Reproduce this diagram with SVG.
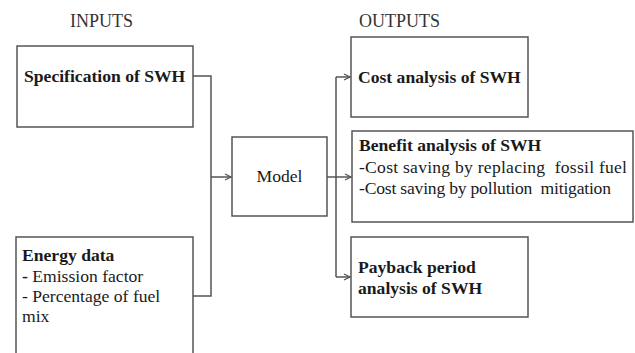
<svg xmlns="http://www.w3.org/2000/svg" width="635" height="353" viewBox="0 0 635 353">
<defs>
<style>
.box{fill:#fff;stroke:#555;stroke-width:1.5}
.t{font-family:"Liberation Serif","Times New Roman",serif;font-size:17.6px;fill:#1a1a1a}
.b{font-weight:bold}
.lbl{font-family:"Liberation Serif","Times New Roman",serif;font-size:18px;fill:#333}
.c{fill:none;stroke:#555;stroke-width:1.5}
</style>
<marker id="ar" markerWidth="8" markerHeight="8" refX="7" refY="4" orient="auto" markerUnits="userSpaceOnUse">
<path d="M1,1 L7,4 L1,7" fill="none" stroke="#555" stroke-width="1.2"/>
</marker>
</defs>
<rect width="635" height="353" fill="#fff"/>
<text class="lbl" x="70" y="27">INPUTS</text>
<text class="lbl" x="359" y="27">OUTPUTS</text>
<g id="spec">
<rect class="box" x="17" y="46" width="176" height="81"/>
<text class="t b" x="24" y="82">Specification of SWH</text>
</g>
<g id="energy">
<rect class="box" x="16" y="237" width="177" height="130"/>
<text class="t b" x="22" y="261">Energy data</text>
<text class="t" x="22" y="282"><tspan font-weight="bold">-</tspan> Emission factor</text>
<text class="t" x="22" y="302">- Percentage of fuel</text>
<text class="t" x="22" y="322">mix</text>
</g>
<g id="model">
<rect class="box" x="232" y="137" width="95" height="79"/>
<text class="t" x="279.5" y="182" text-anchor="middle">Model</text>
</g>
<g id="cost">
<rect class="box" x="351" y="37" width="177" height="80"/>
<text class="t b" x="358" y="83">Cost analysis of SWH</text>
</g>
<g id="benefit">
<rect class="box" x="352" y="131" width="281" height="91"/>
<text class="t b" x="359" y="151">Benefit analysis of SWH</text>
<text class="t" x="359" y="173" textLength="268" lengthAdjust="spacing" xml:space="preserve">-Cost saving by replacing  fossil fuel</text>
<text class="t" x="359" y="194" textLength="252" lengthAdjust="spacing" xml:space="preserve">-Cost saving by pollution  mitigation</text>
</g>
<g id="payback">
<rect class="box" x="351" y="237" width="177" height="80"/>
<text class="t b" x="358" y="273">Payback period</text>
<text class="t b" x="358" y="294">analysis of SWH</text>
</g>
<g id="connectors">
<path class="c" d="M193,76 H211 V296 H193"/>
<path class="c" d="M211,177 H231" marker-end="url(#ar)"/>
<path class="c" d="M327,177 H336"/>
<path class="c" d="M336,77 V277"/>
<path class="c" d="M336,77 H350" marker-end="url(#ar)"/>
<path class="c" d="M336,177 H351" marker-end="url(#ar)"/>
<path class="c" d="M336,277 H350" marker-end="url(#ar)"/>
</g>
</svg>
